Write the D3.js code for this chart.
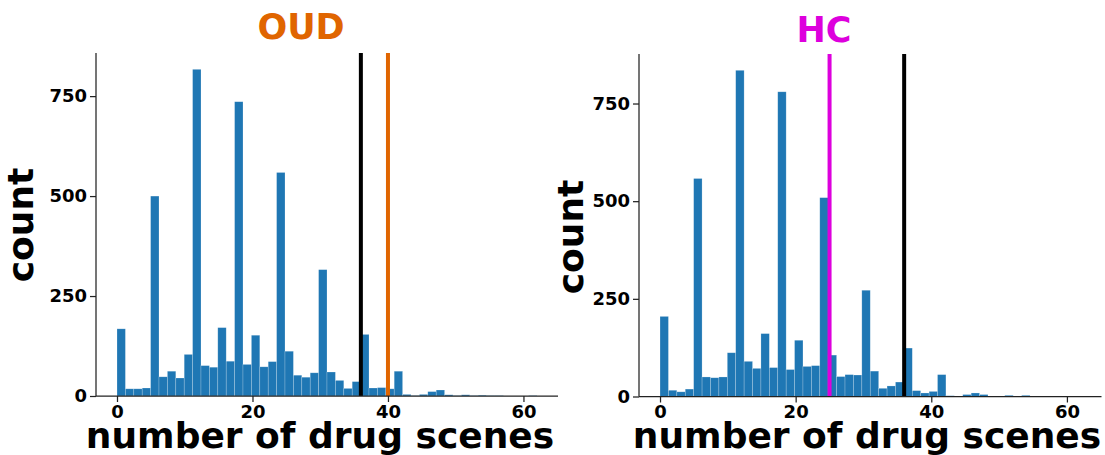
<!DOCTYPE html>
<html>
<head>
<meta charset="utf-8">
<script src="https://cdn.jsdelivr.net/npm/d3@7/dist/d3.min.js"></script>
<style>
  html, body { margin: 0; padding: 0; background: #fff; }
  svg { display: block; }
  text { font-family: "DejaVu Sans", sans-serif; font-weight: bold; }
</style>
</head>
<body>
<svg id="chart" width="1105" height="455"></svg>
<script>
// Histogram bins: 50 equal bins spanning 0..62 drug scenes
const binLo = 0;
const binHi = 62;
const binCount = 50;

// Counts per bin, OUD group
const oudCounts = [168, 18, 18, 20, 500, 48, 62, 45, 104, 817,
                   76, 72, 171, 87, 736, 79, 152, 73, 86, 559,
                   112, 52, 47, 58, 316, 60, 39, 19, 36, 154,
                   20, 21, 18, 62, 4, 1, 4, 11, 15, 3,
                   1, 3, 1, 2, 1, 1, 0, 0, 0, 1];

// Counts per bin, HC group
const hcCounts = [205, 16, 12, 19, 558, 50, 48, 50, 112, 835,
                  90, 72, 161, 74, 780, 69, 144, 77, 79, 509,
                  106, 51, 56, 55, 272, 65, 21, 27, 37, 124,
                  15, 9, 13, 56, 2, 1, 5, 9, 5, 0,
                  0, 3, 0, 3, 0, 0, 0, 0, 0, 0];

// Reference lines (x positions) per panel
const oudLines = [36, 40];
const hcLines = [25, 36];

const xTicks = [0, 20, 40, 60];
const yTicks = [0, 250, 500, 750];
const panelTitles = ["OUD", "HC"];
const xLabel = "number of drug scenes";
const yLabel = "count";

const barColor = "#1f77b4";
const oudColor = "#e06500";
const hcColor = "#dd00dd";

const svg = d3.select("#chart");
const binW = (binHi - binLo) / binCount;
const pad = (binHi - binLo) * 0.05;

function drawPanel(cfg) {
  const x = d3.scaleLinear().domain([binLo - pad, binHi + pad]).range([cfg.left, cfg.right]);
  const yMax = d3.max(cfg.counts) * 1.05;
  const y = d3.scaleLinear().domain([0, yMax]).range([cfg.bottom, cfg.top]);

  const bins = cfg.counts.map((c, i) => ({
    x0: binLo + i * binW,
    x1: binLo + (i + 1) * binW,
    c
  }));

  const g = svg.append("g");

  g.selectAll("rect.bar")
    .data(bins.filter(d => d.c > 0))
    .join("rect")
    .attr("class", "bar")
    .attr("x", d => x(d.x0))
    .attr("width", d => x(d.x1) - x(d.x0))
    .attr("y", d => y(d.c))
    .attr("height", d => y(0) - y(d.c))
    .attr("fill", barColor)
    .attr("stroke", "rgba(255,255,255,0.35)")
    .attr("stroke-width", 0.6);

  // vertical reference lines
  g.selectAll("line.ref")
    .data(cfg.lines)
    .join("line")
    .attr("class", "ref")
    .attr("x1", d => x(d.v)).attr("x2", d => x(d.v))
    .attr("y1", cfg.top).attr("y2", cfg.bottom)
    .attr("stroke", d => d.color)
    .attr("stroke-width", 4);

  // axes (left and bottom spines only)
  const xAxis = g.append("g")
    .attr("transform", `translate(0,${cfg.bottom})`)
    .call(d3.axisBottom(x).tickValues(xTicks).tickSize(6).tickPadding(3));
  const yAxis = g.append("g")
    .attr("transform", `translate(${cfg.left},0)`)
    .call(d3.axisLeft(y).tickValues(yTicks).tickSize(6).tickPadding(3));

  [xAxis, yAxis].forEach(a => {
    a.select(".domain").attr("stroke", "#222").attr("stroke-width", 1.25);
    a.selectAll(".tick line").attr("stroke", "#222").attr("stroke-width", 1.25);
    a.selectAll(".tick text")
      .attr("fill", "#000")
      .style("font-size", "18px")
      .style("font-family", "'DejaVu Sans', sans-serif")
      .style("font-weight", "bold");
  });
  // axis line spans the full domain, not just to the range ends with outer ticks
  xAxis.select(".domain").attr("d", `M${cfg.left},0H${cfg.right}`);
  yAxis.select(".domain").attr("d", `M0,${cfg.bottom}V${cfg.top}`);

  g.append("text")
    .attr("x", cfg.titleX).attr("y", cfg.titleY)
    .attr("text-anchor", "middle")
    .attr("fill", cfg.titleColor)
    .style("font-size", "35px")
    .text(cfg.title);

  g.append("text")
    .attr("x", cfg.xLabelX).attr("y", 448)
    .attr("text-anchor", "middle")
    .attr("fill", "#000")
    .style("font-size", "36px")
    .text(xLabel);

  g.append("text")
    .attr("transform", `translate(${cfg.yLabelX},${cfg.yLabelY}) rotate(-90)`)
    .attr("text-anchor", "middle")
    .attr("fill", "#000")
    .style("font-size", "36px")
    .text(yLabel);
}

drawPanel({
  counts: oudCounts,
  lines: [{ v: oudLines[0], color: "#000" }, { v: oudLines[1], color: oudColor }],
  left: 96, right: 558, top: 53, bottom: 396,
  title: panelTitles[0], titleColor: oudColor, titleX: 301, titleY: 39,
  xLabelX: 320, yLabelX: 33, yLabelY: 225
});

drawPanel({
  counts: hcCounts,
  lines: [{ v: hcLines[0], color: hcColor }, { v: hcLines[1], color: "#000" }],
  left: 639, right: 1101.5, top: 54, bottom: 396.5,
  title: panelTitles[1], titleColor: hcColor, titleX: 824, titleY: 42,
  xLabelX: 867, yLabelX: 583, yLabelY: 237
});
</script>
</body>
</html>
